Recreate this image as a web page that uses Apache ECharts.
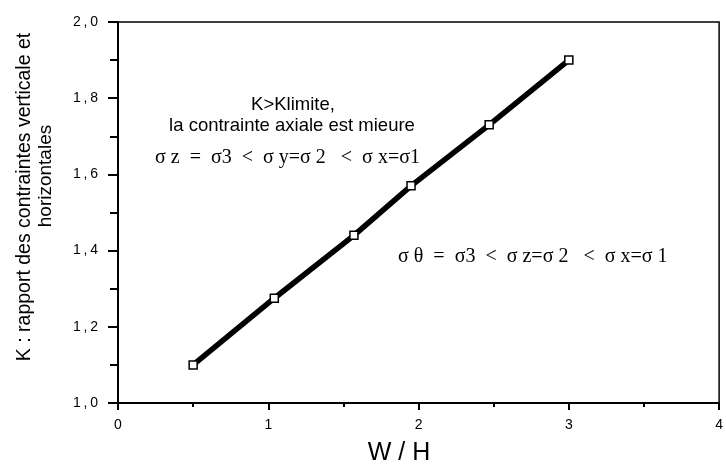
<!DOCTYPE html>
<html>
<head>
<meta charset="utf-8">
<script src="https://cdn.jsdelivr.net/npm/echarts@6/dist/echarts.min.js"></script>
<style>html,body{margin:0;padding:0;background:#fff;}#c{width:726px;height:464px;}</style>
</head>
<body>
<div id="c"></div>
<script>
// Data
var wh = [0.5, 1.04, 1.57, 1.95, 2.47, 3.0];
var kValues = [1.10, 1.275, 1.44, 1.57, 1.73, 1.90];
var xTicks = [0, 1, 2, 3, 4];
var yTicks = [1.0, 1.2, 1.4, 1.6, 1.8, 2.0];
var yTitle1 = 'K : rapport des contraintes verticale et';
var yTitle2 = 'horizontales';
var xTitle = 'W / H';
var note1 = 'K>Klimite,';
var note2 = 'la contrainte axiale est mieure';
var formula1 = 'σ z  =  σ3  <  σ y=σ 2   <  σ x=σ1';
var formula2 = 'σ θ  =  σ3  <  σ z=σ 2   <  σ x=σ 1';

var points = wh.map(function (x, i) { return [x, kValues[i]]; });

var chart = echarts.init(document.getElementById('c'));
var sans = 'Liberation Sans, Arial, sans-serif';
var serif = 'Liberation Serif, Times New Roman, serif';

chart.setOption({
  animation: false,
  backgroundColor: '#fff',
  grid: { left: 118, right: -2, top: 22, bottom: 61, show: true, borderColor: '#000', borderWidth: 1.5, backgroundColor: 'transparent' },
  xAxis: {
    type: 'value', min: xTicks[0], max: xTicks[xTicks.length - 1], interval: 1,
    axisLine: { show: true, onZero: false, lineStyle: { color: '#000', width: 2 } },
    axisTick: { show: true, length: 7, lineStyle: { color: '#000', width: 2 } },
    minorTick: { show: true, splitNumber: 2, length: 4, lineStyle: { color: '#000', width: 2 } },
    splitLine: { show: false },
    axisLabel: { color: '#000', fontSize: 14, fontFamily: sans, margin: 15, showMaxLabel: true,
      formatter: function (v) { return String(v); } }
  },
  yAxis: {
    type: 'value', min: yTicks[0], max: yTicks[yTicks.length - 1], interval: 0.2,
    axisLine: { show: true, onZero: false, lineStyle: { color: '#000', width: 2 } },
    axisTick: { show: true, length: 10, lineStyle: { color: '#000', width: 2 } },
    minorTick: { show: true, splitNumber: 2, length: 8, lineStyle: { color: '#000', width: 2 } },
    splitLine: { show: false },
    axisLabel: { color: '#000', fontSize: 14, fontFamily: sans, margin: 20,
      formatter: function (v) { return v.toFixed(1).replace('.', '\u2009,\u2009'); } }
  },
  series: [{
    type: 'line',
    data: points,
    lineStyle: { color: '#000', width: 5.5 },
    symbol: 'rect',
    symbolSize: 8,
    itemStyle: { color: '#fff', borderColor: '#000', borderWidth: 1.5 },
    z: 3
  }],
  graphic: [
    { type: 'text', x: 25, y: 197, rotation: Math.PI / 2,
      style: { text: yTitle1, fill: '#000', fontSize: 19.5, fontFamily: sans, align: 'center', verticalAlign: 'middle' } },
    { type: 'text', x: 46, y: 176, rotation: Math.PI / 2,
      style: { text: yTitle2, fill: '#000', fontSize: 19, fontFamily: sans, align: 'center', verticalAlign: 'middle' } },
    { type: 'text', x: 399, y: 453,
      style: { text: xTitle, fill: '#000', fontSize: 25, fontFamily: sans, align: 'center', verticalAlign: 'middle' } },
    { type: 'text', x: 293, y: 105,
      style: { text: note1, fill: '#000', fontSize: 18.5, fontFamily: sans, align: 'center', verticalAlign: 'middle' } },
    { type: 'text', x: 292, y: 126,
      style: { text: note2, fill: '#000', fontSize: 18.5, fontFamily: sans, align: 'center', verticalAlign: 'middle' } },
    { type: 'text', x: 155, y: 158,
      style: { text: formula1, fill: '#000', fontSize: 20, fontFamily: serif, align: 'left', verticalAlign: 'middle' } },
    { type: 'text', x: 398, y: 257,
      style: { text: formula2, fill: '#000', fontSize: 20, fontFamily: serif, align: 'left', verticalAlign: 'middle' } }
  ]
});
</script>
</body>
</html>
